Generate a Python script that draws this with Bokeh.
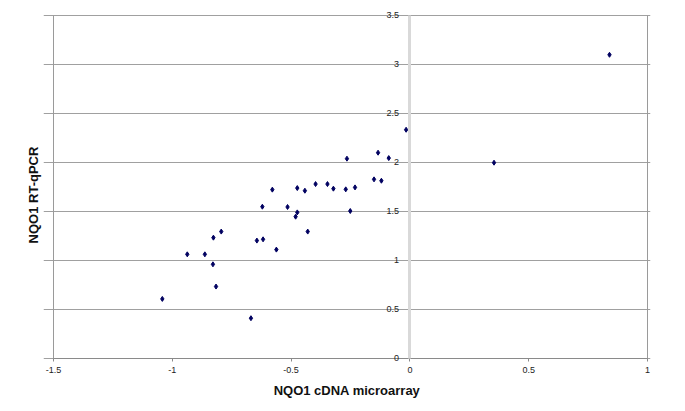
from bokeh.plotting import figure
from bokeh.models import Range1d, FixedTicker, CustomJSTickFormatter, LinearAxis
from bokeh.embed import file_html
from bokeh.resources import INLINE

# data
microarray = [-1.042, -0.937, -0.863, -0.827, -0.794, -0.829, -0.816, -0.669,
              -0.644, -0.618, -0.621, -0.579, -0.562, -0.515, -0.481, -0.474,
              -0.474, -0.442, -0.430, -0.397, -0.347, -0.322, -0.270, -0.251,
              -0.231, -0.265, -0.134, -0.089, -0.016, -0.151, -0.120, 0.354, 0.840]
rtqpcr = [0.608, 1.063, 1.063, 1.233, 1.295, 0.961, 0.734, 0.411,
          1.203, 1.216, 1.549, 1.723, 1.111, 1.546, 1.447, 1.491,
          1.739, 1.712, 1.295, 1.780, 1.780, 1.733, 1.726, 1.505,
          1.746, 2.039, 2.100, 2.045, 2.334, 1.828, 1.814, 1.998, 3.099]
x_ticks = [-1.5, -1, -0.5, 0, 0.5, 1]
y_ticks = [0, 0.5, 1, 1.5, 2, 2.5, 3, 3.5]

FONT = "Liberation Sans"
xmin, xmax = x_ticks[0], x_ticks[-1]
ymin, ymax = y_ticks[0], y_ticks[-1]

# ranges are padded a little so the axis texts on the plot edges are not clipped
p = figure(width=677, height=403, output_backend="svg", toolbar_location=None,
           x_range=Range1d(xmin - 0.0421, xmax + 0.0126),
           y_range=Range1d(ymin - 0.245, ymax + 0.0816),
           min_border_left=43, min_border_right=27, min_border_top=7, min_border_bottom=21)
p.background_fill_color = "white"
p.border_fill_color = "white"
p.outline_line_color = None

# grid
p.xgrid.visible = False
p.ygrid.ticker = FixedTicker(ticks=y_ticks)
p.ygrid.bounds = (xmin, xmax)
p.ygrid.grid_line_color = "#a0a0a0"
p.ygrid.grid_line_width = 1

# plot-area side borders
p.segment(x0=[xmin, xmax], y0=[ymin, ymin], x1=[xmin, xmax], y1=[ymax, ymax],
          line_color="#9a9a9a", line_width=1)

# bottom axis: only the title
xa = p.xaxis[0]
xa.ticker = FixedTicker(ticks=[])
xa.axis_line_color = None
xa.major_tick_line_color = None
xa.minor_tick_line_color = None
xa.axis_label = "NQO1 cDNA microarray"
xa.axis_label_text_font = FONT
xa.axis_label_text_font_style = "bold"
xa.axis_label_text_font_size = "13px"
xa.axis_label_text_color = "#111111"
xa.axis_label_standoff = 0

# left axis: only the title
ya = p.yaxis[0]
ya.ticker = FixedTicker(ticks=[])
ya.axis_line_color = None
ya.major_tick_line_color = None
ya.minor_tick_line_color = None
ya.axis_label = "NQO1 RT-qPCR"
ya.axis_label_text_font = FONT
ya.axis_label_text_font_style = "bold"
ya.axis_label_text_font_size = "13px"
ya.axis_label_text_color = "#111111"
ya.axis_label_standoff = 3

fmt = CustomJSTickFormatter(code="return tick.toString();")

# category axis at y = 0
xa0 = LinearAxis(fixed_location=0, ticker=FixedTicker(ticks=x_ticks), formatter=fmt,
                 bounds=(xmin, xmax))
xa0.axis_line_color = "#8a8a8a"
xa0.major_tick_line_color = "#8a8a8a"
xa0.major_tick_out = 3
xa0.major_tick_in = 0
xa0.minor_tick_line_color = None
xa0.major_label_text_font = FONT
xa0.major_label_text_font_size = "9px"
xa0.major_label_text_color = "#222222"
xa0.major_label_standoff = 6
p.add_layout(xa0, "below")

# value axis crossing at x = 0
ya0 = LinearAxis(fixed_location=0, ticker=FixedTicker(ticks=y_ticks), formatter=fmt,
                 bounds=(ymin, ymax))
ya0.axis_line_color = "#d9d9d9"
ya0.axis_line_width = 3
ya0.major_tick_line_color = None
ya0.minor_tick_line_color = None
ya0.major_label_text_font = FONT
ya0.major_label_text_font_size = "9px"
ya0.major_label_text_color = "#222222"
ya0.major_label_standoff = 5
p.add_layout(ya0, "left")

# points
p.scatter(microarray, rtqpcr, marker="diamond", size=5,
          fill_color="#000060", line_color="#000060")

open("out.html", "w").write(file_html(p, INLINE))
